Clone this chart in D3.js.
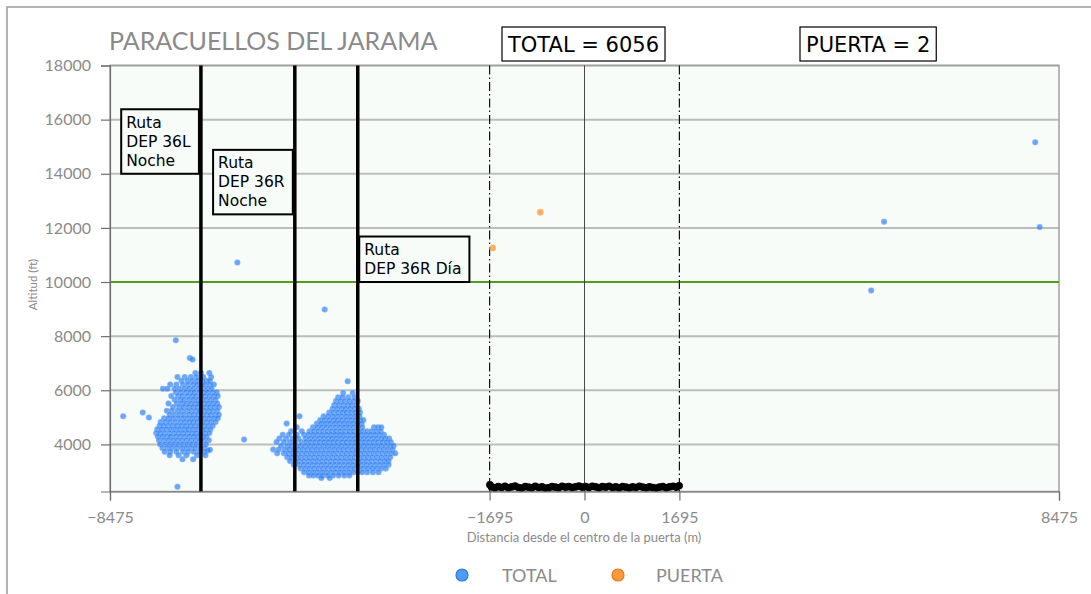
<!DOCTYPE html>
<html>
<head>
<meta charset="utf-8">
<script src="https://cdn.jsdelivr.net/npm/d3@7"></script>
<style>
  html, body { margin: 0; padding: 0; background: #ffffff; }
  svg { display: block; }
</style>
</head>
<body>
<svg id="chart" width="1091" height="594"></svg>
<script>
// ---- data ----
const chartTitle = "PARACUELLOS DEL JARAMA";
const totalCount = 6056;
const gateCount = 2;

const xTicks = [-8475, -1695, 0, 1695, 8475];
const yTicks = [4000, 6000, 8000, 10000, 12000, 14000, 16000, 18000];
const gateHalfWidth = 1695;      // gate limits (m)
const altitudeLimit = 10000;     // reference altitude (ft)

const routeDistances = [-6851, -5174, -4050];
const routeLabels = [
  ["Ruta", "DEP 36L", "Noche"],
  ["Ruta", "DEP 36R", "Noche"],
  ["Ruta", "DEP 36R Día"]
];
const routeLabelBase = [14000, 12500, 10000];   // altitude of each label's lower edge

// TOTAL tracks: isolated points [distance m, altitude ft]
const totalIsolated = [
  [-8240, 5040], [-7890, 5180], [-7780, 4990], [-7300, 7850], [-7050, 7190],
  [-7000, 7140], [-7270, 2440], [-6080, 4180], [-6200, 10720], [-4640, 8980],
  [-4230, 6330], [-6730, 3770], [-6690, 3800],
  [5120, 9690], [5350, 12230], [8050, 15160], [8130, 12030]
];

// TOTAL tracks near departure 36L (rows: altitude ft, distances m)
const cluster36L = [
  [6640, [-6950, -6850, -6700]],
  [6490, [-7270, -7140, -7030, -6930, -6810, -6670]],
  [6350, [-7200, -7090, -7000, -6910, -6830, -6750, -6690]],
  [6210, [-7400, -7290, -7170, -7080, -6990, -6920, -6840, -6770, -6690, -6620]],
  [6060, [-7530, -7450, -7320, -7230, -7140, -7060, -6980, -6890, -6810, -6730, -6660]],
  [5930, [-7300, -7210, -7120, -7040, -6970, -6880, -6800, -6730, -6640, -6570]],
  [5790, [-7380, -7260, -7180, -7090, -7010, -6940, -6850, -6780, -6700, -6620, -6550]],
  [5650, [-7320, -7220, -7150, -7060, -6980, -6900, -6830, -6750, -6670, -6590]],
  [5510, [-7430, -7280, -7190, -7110, -7030, -6950, -6880, -6800, -6720, -6640, -6560]],
  [5380, [-7350, -7240, -7160, -7070, -6990, -6910, -6840, -6760, -6690, -6610, -6530]],
  [5240, [-7460, -7370, -7270, -7190, -7100, -7020, -6940, -6870, -6790, -6710, -6640, -6560]],
  [5100, [-7410, -7320, -7230, -7150, -7060, -6980, -6900, -6830, -6750, -6680, -6600, -6530]],
  [4970, [-7510, -7430, -7350, -7260, -7170, -7090, -7010, -6930, -6860, -6780, -6700, -6620, -6550]],
  [4830, [-7570, -7480, -7400, -7310, -7220, -7140, -7060, -6990, -6910, -6830, -6750, -6670, -6590]],
  [4690, [-7590, -7520, -7440, -7360, -7280, -7200, -7120, -7040, -6960, -6880, -6800, -6720, -6640]],
  [4560, [-7630, -7550, -7470, -7390, -7310, -7230, -7150, -7080, -7000, -6920, -6840, -6760, -6680]],
  [4420, [-7650, -7580, -7500, -7410, -7330, -7250, -7170, -7090, -7010, -6940, -6860, -6780, -6700]],
  [4290, [-7620, -7540, -7460, -7390, -7300, -7220, -7140, -7060, -6980, -6900, -6820, -6750]],
  [4150, [-7600, -7510, -7430, -7350, -7270, -7190, -7110, -7030, -6950, -6870, -6800, -6710]],
  [4010, [-7580, -7490, -7410, -7330, -7250, -7170, -7090, -7010, -6930, -6850, -6760]],
  [3870, [-7540, -7450, -7370, -7280, -7190, -7110, -7030, -6950, -6860, -6780]],
  [3730, [-7500, -7400, -7290, -7170, -7080, -6980, -6880, -6790]],
  [3600, [-7410, -7250, -7110, -6920, -6770]],
  [3450, [-7180, -6990]]
];

// TOTAL tracks near departure 36R (rows: altitude ft, distances m)
const cluster36R = [
  [5900, [-4310, -4140]],
  [5740, [-4400, -4320, -4220, -4110]],
  [5600, [-4440, -4360, -4280, -4200, -4120, -4050]],
  [5460, [-4470, -4390, -4310, -4230, -4160, -4080]],
  [5320, [-4500, -4420, -4340, -4270, -4190, -4110, -4030]],
  [5180, [-4560, -4480, -4400, -4320, -4250, -4170, -4090, -4010]],
  [5040, [-5090, -4660, -4580, -4500, -4420, -4340, -4260, -4180, -4100, -4020]],
  [4900, [-4720, -4640, -4560, -4480, -4410, -4330, -4250, -4170, -4090, -4010, -3950]],
  [4770, [-5320, -4780, -4700, -4620, -4540, -4460, -4380, -4300, -4220, -4140, -4060, -3980]],
  [4630, [-5140, -4850, -4770, -4690, -4610, -4530, -4450, -4370, -4290, -4210, -4130, -4050, -3970, -3760, -3690, -3630]],
  [4490, [-5240, -5050, -4910, -4830, -4750, -4670, -4590, -4510, -4440, -4360, -4280, -4200, -4120, -4040, -3960, -3880, -3800, -3720, -3640]],
  [4360, [-5390, -5280, -5140, -5010, -4930, -4850, -4770, -4690, -4610, -4530, -4450, -4370, -4300, -4220, -4140, -4060, -3980, -3900, -3820, -3740, -3660, -3580]],
  [4220, [-5450, -5330, -5210, -5110, -4980, -4900, -4820, -4740, -4660, -4580, -4510, -4430, -4350, -4270, -4190, -4110, -4030, -3950, -3870, -3790, -3710, -3630, -3560, -3490]],
  [4090, [-5500, -5370, -5260, -5170, -5060, -4970, -4890, -4810, -4730, -4650, -4570, -4490, -4410, -4330, -4250, -4170, -4090, -4010, -3930, -3850, -3770, -3690, -3610, -3530, -3460]],
  [3950, [-5420, -5310, -5230, -5150, -5070, -4990, -4910, -4830, -4750, -4670, -4590, -4510, -4430, -4350, -4270, -4190, -4110, -4030, -3950, -3870, -3790, -3710, -3630, -3550, -3470, -3410]],
  [3810, [-5560, -5460, -5350, -5270, -5190, -5110, -5030, -4950, -4870, -4790, -4710, -4630, -4550, -4470, -4390, -4310, -4230, -4150, -4070, -3990, -3910, -3830, -3750, -3670, -3590, -3510, -3430]],
  [3670, [-5490, -5370, -5290, -5210, -5130, -5050, -4970, -4890, -4810, -4730, -4650, -4570, -4490, -4410, -4330, -4250, -4170, -4090, -4010, -3930, -3850, -3770, -3690, -3610, -3530, -3450, -3380]],
  [3530, [-5310, -5230, -5150, -5070, -4990, -4910, -4830, -4750, -4670, -4590, -4510, -4430, -4350, -4270, -4190, -4110, -4030, -3950, -3870, -3790, -3710, -3630, -3550, -3470]],
  [3390, [-5260, -5170, -5090, -5010, -4930, -4850, -4770, -4690, -4610, -4530, -4450, -4370, -4290, -4210, -4130, -4050, -3970, -3890, -3810, -3730, -3650, -3570, -3500]],
  [3250, [-5190, -5100, -5020, -4940, -4860, -4780, -4700, -4620, -4540, -4460, -4380, -4300, -4220, -4140, -4060, -3980, -3900, -3820, -3740, -3660, -3580, -3500]],
  [3110, [-5070, -4990, -4910, -4830, -4750, -4670, -4590, -4510, -4430, -4350, -4270, -4190, -4110, -4030, -3950, -3870, -3790, -3710, -3630, -3550]],
  [2970, [-5010, -4930, -4850, -4770, -4690, -4610, -4530, -4450, -4370, -4290, -4210, -4130, -4050, -3970, -3880, -3780, -3680]],
  [2850, [-4920, -4840, -4760, -4680, -4590, -4490, -4390, -4290, -4200]],
  [2760, [-4700, -4550]]
];

// ground tracks inside the gate [distance m, altitude ft]
const gateGround = [
  [-1690, 2510], [-1660, 2430], [-1600, 2400], [-1540, 2440], [-1480, 2410], [-1420, 2450],
  [-1360, 2400], [-1300, 2430], [-1240, 2460], [-1180, 2410], [-1120, 2390], [-1060, 2440],
  [-1000, 2420], [-940, 2400], [-880, 2450], [-820, 2410], [-760, 2430], [-700, 2390],
  [-640, 2400], [-580, 2440], [-520, 2420], [-460, 2400], [-400, 2450], [-340, 2420],
  [-280, 2440], [-220, 2410], [-160, 2430], [-100, 2460], [-40, 2420], [20, 2440],
  [80, 2410], [140, 2450], [200, 2430], [260, 2400], [320, 2440], [380, 2420],
  [440, 2450], [500, 2410], [560, 2430], [620, 2400], [680, 2440], [740, 2420],
  [800, 2400], [860, 2430], [920, 2410], [980, 2450], [1040, 2420], [1100, 2400],
  [1160, 2430], [1220, 2410], [1280, 2390], [1340, 2420], [1400, 2440], [1460, 2400],
  [1520, 2430], [1580, 2450], [1640, 2420], [1690, 2470]
];

// PUERTA tracks [distance m, altitude ft]
const gatePoints = [[-1640, 11260], [-790, 12580]];

// ---- layout ----
const svg = d3.select("#chart");
const plot = { left: 110, right: 1059, top: 65.5, bottom: 491.5 };
const x = d3.scaleLinear().domain([-8475, 8475]).range([plot.left, plot.right]);
const y = d3.scaleLinear().domain([2260, 18000]).range([plot.bottom, plot.top]);

const greyText = "#8a8a8a";
const calibriLike = "Lato, 'Open Sans', sans-serif";
const mplFont = "'DejaVu Sans', sans-serif";

// outer frame
svg.append("path")
  .attr("d", "M7,600 L7,7 L1100,7")
  .attr("fill", "none").attr("stroke", "#9a9a9a").attr("stroke-width", 1.5);

// title
svg.append("text")
  .attr("x", 109).attr("y", 50)
  .attr("font-family", calibriLike).attr("font-size", 25)
  .attr("fill", greyText)
  .text(chartTitle);

// plot background
svg.append("rect")
  .attr("x", plot.left).attr("y", plot.top)
  .attr("width", plot.right - plot.left).attr("height", plot.bottom - plot.top)
  .attr("fill", "#f7fcf8");

// horizontal grid
svg.append("g").selectAll("line").data(yTicks).join("line")
  .attr("x1", plot.left).attr("x2", plot.right)
  .attr("y1", d => y(d)).attr("y2", d => y(d))
  .attr("stroke", "#bdbdbd").attr("stroke-width", 2);

// plot border
svg.append("rect")
  .attr("x", plot.left).attr("y", plot.top)
  .attr("width", plot.right - plot.left).attr("height", plot.bottom - plot.top)
  .attr("fill", "none").attr("stroke", "#a0a0a0").attr("stroke-width", 1.5);

// altitude limit
svg.append("line")
  .attr("x1", plot.left).attr("x2", plot.right)
  .attr("y1", y(altitudeLimit)).attr("y2", y(altitudeLimit))
  .attr("stroke", "#4f9f1d").attr("stroke-width", 2);

// gate centre and limits
svg.append("line")
  .attr("x1", x(0)).attr("x2", x(0)).attr("y1", plot.top).attr("y2", plot.bottom)
  .attr("stroke", "#333").attr("stroke-width", 0.9);
svg.append("g").selectAll("line").data([-gateHalfWidth, gateHalfWidth]).join("line")
  .attr("x1", d => x(d)).attr("x2", d => x(d)).attr("y1", plot.top).attr("y2", plot.bottom)
  .attr("stroke", "#111").attr("stroke-width", 1.2)
  .attr("stroke-dasharray", "9,3,1.5,3");

// scatter: TOTAL
const totalPts = [];
[cluster36L, cluster36R].forEach(rows => rows.forEach(([alt, xs]) => xs.forEach(d => totalPts.push([d, alt]))));
totalIsolated.forEach(p => totalPts.push(p));

svg.append("g").selectAll("circle").data(totalPts).join("circle")
  .attr("cx", d => x(d[0])).attr("cy", d => y(d[1])).attr("r", 3)
  .attr("fill", "#2a7df5").attr("fill-opacity", 0.68)
  .attr("stroke", "#d8e8ff").attr("stroke-opacity", 0.4).attr("stroke-width", 0.6);

// scatter: ground tracks in the gate
svg.append("g").selectAll("circle").data(gateGround).join("circle")
  .attr("cx", d => x(d[0])).attr("cy", d => y(d[1])).attr("r", 3.8)
  .attr("fill", "#000");

// scatter: PUERTA
svg.append("g").selectAll("circle").data(gatePoints).join("circle")
  .attr("cx", d => x(d[0])).attr("cy", d => y(d[1])).attr("r", 3.2)
  .attr("fill", "#ff8a1f").attr("fill-opacity", 0.7)
  .attr("stroke", "#ffc28a").attr("stroke-width", 0.6);

// departure routes
svg.append("g").selectAll("line").data(routeDistances).join("line")
  .attr("x1", d => x(d)).attr("x2", d => x(d)).attr("y1", plot.top).attr("y2", plot.bottom)
  .attr("stroke", "#000").attr("stroke-width", 3.5);

// route labels
const lineH = 19, padL = 5, padR = 8;
routeDistances.forEach((dist, i) => {
  const lines = routeLabels[i];
  const g = svg.append("g");
  const rect = g.append("rect");
  const txt = g.append("text")
    .attr("font-family", mplFont).attr("font-size", 15.5).attr("fill", "#000");
  lines.forEach((s, k) => txt.append("tspan").attr("x", 0).attr("y", k * lineH).text(s));
  const w = txt.node().getBBox().width + padL + padR;
  const h = 26.5 + lineH * (lines.length - 1);
  const bottom = y(routeLabelBase[i]);
  const top = bottom - h;
  const left = i < 2 ? x(dist) - 2 - w : x(dist) + 1.5;
  rect.attr("x", left).attr("y", top).attr("width", w).attr("height", h)
    .attr("fill", "#f7fcf8").attr("stroke", "#000").attr("stroke-width", 2);
  txt.attr("transform", `translate(${left + padL},${top + 18.5})`);
});

// axes
const yAxis = svg.append("g")
  .attr("transform", `translate(${plot.left},0)`)
  .call(d3.axisLeft(y).tickValues(yTicks).tickSize(9).tickPadding(10).tickFormat(d3.format("d")));
const xAxis = svg.append("g")
  .attr("transform", `translate(0,${plot.bottom})`)
  .call(d3.axisBottom(x).tickValues(xTicks).tickSize(9).tickPadding(11).tickFormat(d3.format("d")));
[yAxis, xAxis].forEach(a => {
  a.select(".domain").attr("stroke", "#6e6e6e").attr("stroke-width", 1.2);
  a.selectAll(".tick line").attr("stroke", "#6e6e6e").attr("stroke-width", 1.2);
  a.selectAll(".tick text").attr("fill", greyText)
    .attr("font-family", calibriLike).attr("font-size", 16);
});

// axis titles
svg.append("text")
  .attr("transform", `translate(37,${(plot.top + plot.bottom) / 2 + 6}) rotate(-90)`)
  .attr("text-anchor", "middle")
  .attr("font-family", calibriLike).attr("font-size", 11.5).attr("fill", greyText)
  .text("Altitud (ft)");
svg.append("text")
  .attr("x", 584).attr("y", 542)
  .attr("text-anchor", "middle")
  .attr("font-family", calibriLike).attr("font-size", 13).attr("fill", greyText)
  .text("Distancia desde el centro de la puerta (m)");

// count boxes
function countBox(left, label) {
  const g = svg.append("g");
  const rect = g.append("rect");
  const t = g.append("text")
    .attr("x", left + 6).attr("y", 52)
    .attr("font-family", mplFont).attr("font-size", 21).attr("fill", "#000")
    .text(label);
  const w = t.node().getComputedTextLength() + 12;
  rect.attr("x", left).attr("y", 27).attr("width", w).attr("height", 34)
    .attr("fill", "#fff").attr("stroke", "#000").attr("stroke-width", 1.2);
}
countBox(502, `TOTAL = ${totalCount}`);
countBox(800, `PUERTA = ${gateCount}`);

// legend
const legendItems = [
  { name: "TOTAL", fill: "#4d9cf8", stroke: "#2f78d8", cx: 462, tx: 502 },
  { name: "PUERTA", fill: "#ff9a3c", stroke: "#e07a1c", cx: 618, tx: 656 }
];
const lg = svg.append("g");
lg.selectAll("circle").data(legendItems).join("circle")
  .attr("cx", d => d.cx).attr("cy", 575).attr("r", 6)
  .attr("fill", d => d.fill).attr("stroke", d => d.stroke).attr("stroke-width", 1.2);
lg.selectAll("text").data(legendItems).join("text")
  .attr("x", d => d.tx).attr("y", 582)
  .attr("font-family", calibriLike).attr("font-size", 18).attr("fill", greyText)
  .text(d => d.name);
</script>
</body>
</html>
